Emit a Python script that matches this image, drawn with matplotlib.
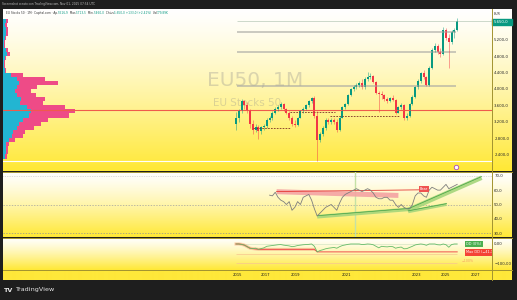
import numpy as np
import matplotlib
matplotlib.use("Agg")
import matplotlib.pyplot as plt
from matplotlib.colors import to_rgb
from matplotlib.patches import Rectangle
from matplotlib.ticker import FuncFormatter

# --- candele mensili EU Stocks 50 (una per barra, indice 0..79) ---
aperture = [3150, 3300, 3450, 3700, 3600, 3450, 3150, 3000, 3080, 2980,
            3060, 3100, 3250, 3300, 3420, 3500, 3560, 3620, 3500, 3420,
            3300, 3150, 3120, 3300, 3450, 3520, 3600, 3700, 3780, 3330,
            2750, 2900, 3050, 3250, 3200, 3250, 3200, 3000, 3300, 3550,
            3620, 3850, 4000, 4050, 4100, 4150, 4050, 4250, 4300, 4320,
            4180, 3900, 3880, 3850, 3750, 3700, 3780, 3720, 3420, 3550,
            3600, 3280, 3350, 3620, 3800, 4050, 4200, 4380, 4300, 4100,
            4500, 4950, 5050, 4900, 4850, 5450, 5250, 5150, 5380, 5450]
massimi = [3430, 3500, 3760, 3720, 3680, 3500, 3250, 3150, 3120, 3100,
           3150, 3300, 3350, 3450, 3550, 3600, 3670, 3650, 3540, 3450,
           3350, 3250, 3320, 3480, 3550, 3620, 3720, 3800, 3820, 3450,
           2950, 3100, 3280, 3300, 3300, 3280, 3260, 3350, 3580, 3650,
           3880, 4020, 4100, 4150, 4200, 4250, 4300, 4420, 4400, 4350,
           4200, 3950, 3950, 3880, 3800, 3800, 3850, 3760, 3580, 3650,
           3620, 3400, 3650, 3850, 4080, 4250, 4420, 4450, 4320, 4550,
           5000, 5120, 5100, 5000, 5500, 5480, 5350, 5450, 5480, 5730]
minimi = [3000, 3200, 3400, 3500, 3400, 3050, 2900, 2950, 2780, 2900,
          3000, 3050, 3200, 3250, 3380, 3450, 3520, 3450, 3380, 3250,
          3100, 3080, 3100, 3280, 3400, 3480, 3560, 3650, 3300, 2250,
          2700, 2850, 3000, 3150, 3150, 3150, 2950, 2980, 3280, 3500,
          3600, 3820, 3950, 4000, 4050, 4000, 4000, 4200, 4250, 4150,
          3880, 3430, 3750, 3700, 3650, 3680, 3700, 3380, 3400, 3500,
          3250, 3250, 3320, 3600, 3780, 4000, 4150, 4250, 4060, 4080,
          4480, 4900, 4850, 4780, 4820, 5200, 4520, 5100, 5250, 5420]
chiusure = [3300, 3450, 3700, 3600, 3450, 3150, 3000, 3080, 2980, 3060,
            3100, 3250, 3300, 3420, 3500, 3560, 3620, 3500, 3420, 3300,
            3150, 3120, 3300, 3450, 3520, 3600, 3700, 3780, 3330, 2750,
            2900, 3050, 3250, 3200, 3250, 3200, 3000, 3300, 3550, 3620,
            3850, 4000, 4050, 4100, 4150, 4050, 4250, 4300, 4320, 4180,
            3900, 3880, 3850, 3750, 3700, 3780, 3720, 3420, 3550, 3600,
            3280, 3350, 3620, 3800, 4050, 4200, 4380, 4300, 4100, 4500,
            4950, 5050, 4900, 4850, 5450, 5250, 5150, 5380, 5450, 5650]

# --- volume profile (livello di prezzo, volume in acquisto / vendita) ---
vp_livelli = [5650, 5550, 5450, 5350, 5250, 5150, 5050, 4950, 4850, 4750,
              4650, 4550, 4450, 4350, 4250, 4150, 4050, 3950, 3850, 3750,
              3650, 3550, 3450, 3350, 3250, 3150, 3050, 2950, 2850, 2750,
              2650, 2550, 2450, 2350]
vp_su = [3, 2, 3, 3, 2, 1, 1, 3, 4, 2, 1, 1, 2, 8, 14, 16, 14, 12, 14, 18,
         17, 24, 28, 26, 20, 16, 14, 10, 9, 6, 3, 3, 3, 2]
vp_giu = [2, 2, 2, 2, 1, 1, 1, 2, 3, 1, 1, 1, 1, 12, 28, 39, 20, 16, 19, 24,
          23, 38, 44, 40, 25, 22, 17, 12, 11, 6, 3, 2, 2, 2]
poc = 3480
livelli_grigi = [5390, 4890, 4080]

# --- RSI (dalla barra 12 in poi) ---
rsi_inizio = 12
rsi = [56.5, 56, 58.5, 55, 53, 52, 50, 52, 46, 48, 52, 50, 55, 56, 57, 53,
       47, 42, 44, 46, 48, 49, 50, 48, 46, 51, 55, 57, 58, 59, 60, 61, 60,
       59, 60, 61, 60, 58, 55, 54, 54, 55, 55, 53, 53, 50, 48, 50, 48, 47,
       47, 50, 56, 58, 58, 56, 55, 60, 62, 61, 60, 60, 62, 64, 61, 62, 63, 64]

# --- drawdown (%) ---
dd = [0, 0, -2, -6, -14, -22, -24, -22, -28, -24, -20, -12, -10, -8, -6, -4,
      -3, -6, -8, -10, -14, -12, -8, -6, -4, -3, -2, 0, -12, -41, -34, -30,
      -25, -22, -20, -18, -22, -14, -8, -5, -2, 0, 0, 0, 0, -3, -2, 0, -1,
      -4, -12, -20, -12, -14, -15, -13, -14, -22, -18, -16, -25, -24, -18,
      -12, -5, -2, 0, -2, -7, 0, 0, 0, -4, -5, 0, -4, -17, -3, 0, 0]
maxdd_x = [0, 1, 2, 3, 4, 5, 6, 8, 28, 29, 79]
maxdd = [0, 0, -2, -6, -14, -22, -24, -28, -28, -41, -41]

# --- etichette asse temporale (posizione in barre) ---
anni = ['2015', '2017', '2019', '2021', '2023', '2025', '2027']
anni_pos = [0.6, 10.6, 21.3, 39.5, 64.5, 74.8, 85.7]

W, H = 517, 300
PASSO, X_PRIMA = 2.8, 236
X0, X1 = (3 - X_PRIMA) / PASSO, (492 - X_PRIMA) / PASSO
VERDE, ROSSO, SEP = '#089981', '#F23645', '#A39330'

fig = plt.figure(figsize=(W / 100, H / 100), dpi=100, facecolor='#1E1E1E')


def px(x0, y0, x1, y1):
    return [x0 / W, 1 - y1 / H, (x1 - x0) / W, (y1 - y0) / H]


def sfondo(x0, y0, x1, y1, alto='#FFFFFF', basso='#FFE835'):
    a = fig.add_axes(px(x0, y0, x1, y1), zorder=0)
    t = np.linspace(0, 1, 200)[:, None, None] ** 1.25
    c0, c1 = np.array(to_rgb(alto)), np.array(to_rgb(basso))
    a.imshow(c0 + (c1 - c0) * t, aspect='auto', extent=(0, 1, 0, 1))
    a.set_axis_off()


def pannello(y0, y1, ylim):
    a = fig.add_axes(px(3, y0, 492, y1), zorder=2)
    a.set_facecolor('none')
    a.set_xlim(X0, X1)
    a.set_ylim(*ylim)
    for s in a.spines.values():
        s.set_visible(False)
    a.set_xticks([])
    a.yaxis.tick_right()
    a.tick_params(axis='y', length=0, pad=1.6, labelsize=2.8, labelcolor='#2B2B2B')
    return a


def it(v, dec):
    return f"{v:,.{dec}f}".replace(',', 'X').replace('.', ',').replace('X', '.').replace('-', '−')


sfondo(3, 9, 512, 171)
sfondo(3, 172, 512, 237)
sfondo(3, 238, 512, 270)
sfondo(3, 270, 512, 280, alto='#FFE83A', basso='#FFE83A')

# 1. pannello prezzi
ax = pannello(9, 171, (1995, 5951))
ax.set_yticks([2400, 2800, 3200, 3600, 4000, 4400, 4800, 5200])
ax.yaxis.set_major_formatter(FuncFormatter(lambda v, _: it(v, 1)))

axvp = fig.add_axes(px(3, 9, 492, 171), zorder=1)
axvp.set_xlim(0, 489)
axvp.set_ylim(1995, 5951)
axvp.barh(vp_livelli, vp_su, height=100, color='#22B5D2', lw=0)
axvp.barh(vp_livelli, vp_giu, left=vp_su, height=100, color='#EE4B87', lw=0)
axvp.set_axis_off()

ax.text(303 / W, 1 - 81 / H, 'EU50, 1M', transform=fig.transFigure, ha='right',
        va='center', fontsize=14.5, color='#8C8C8C', alpha=0.32, zorder=0)
ax.text(281 / W, 1 - 103.5 / H, 'EU Stocks 50', transform=fig.transFigure, ha='right',
        va='center', fontsize=7.5, color='#8C8C8C', alpha=0.32, zorder=0)

o, hi, lo, c = map(np.array, (aperture, massimi, minimi, chiusure))
idx = np.arange(len(c))
colori = np.where(c >= o, VERDE, ROSSO)
ax.hlines(livelli_grigi, 0.4, 78.6, color='#ABABA5', lw=1.1, alpha=0.8)
ax.hlines(c[-1], 0.4, X1, color='#B9C9B9', lw=0.5)
ax.axhline(poc, color='#EF5B4C', lw=0.8)
ax.axhline(2230, color='white', lw=0.8)
ax.hlines(3035, 6.1, 19.3, color='#7B2D26', lw=0.6, linestyles=(0, (2, 1.5)))
ax.hlines(3440, 19.3, 35.4, color='#7B2D26', lw=0.6, linestyles=(0, (2, 1.5)))
ax.hlines(3330, 33.6, 58.6, color='#7B2D26', lw=0.6, linestyles=(0, (2, 1.5)))
ax.vlines(idx, lo, hi, colors=colori, lw=0.6, alpha=0.55)
ax.bar(idx, np.maximum(np.abs(c - o), 12), bottom=np.minimum(o, c), width=0.75,
       color=colori, lw=0)
ax.plot(78.6, 2092, 'o', ms=3.2, mfc='white', mec='#AB47BC', mew=0.6, clip_on=False)

# prezzo corrente sull'asse
fig.add_artist(Rectangle((492 / W, 1 - 25 / H), 20 / W, 6 / H, color=VERDE,
                         transform=fig.transFigure))
fig.text(494 / W, 1 - 22 / H, it(c[-1], 1), fontsize=2.8, color='white', va='center')
fig.text(494 / W, 1 - 14 / H, 'EUR', fontsize=2.4, color='#333333', va='center')

# 2. pannello RSI
axr = pannello(172, 237, (27.4, 72.6))
axr.set_yticks([30, 40, 50, 60, 70])
axr.yaxis.set_major_formatter(FuncFormatter(lambda v, _: it(v, 1)))
axr.axhline(70, color='#BDBDBD', lw=0.5, ls=(0, (1, 1.5)))
axr.axhline(50, color='#A0A0A0', lw=0.5, ls=(0, (2, 2)))
axr.axhline(30, color='#909090', lw=0.5, ls=(0, (2, 2)))
axr.axvline(42.5, color='#C5E1A5', lw=1)
axr.plot([14.5, 58.0], [58.9, 56.3], color='#F4A3A3', lw=3.6, alpha=0.9, solid_capstyle='butt')
axr.plot([14.5, 65.5], [59.0, 60.2], color='#E53935', lw=0.6)
axr.plot([29.0, 62.1], [41.5, 46.7], color='#A5D67A', lw=2.6, alpha=0.9, solid_capstyle='butt')
axr.plot([61.5, 87.7], [46.2, 68.6], color='#A5D67A', lw=3.2, alpha=0.9, solid_capstyle='butt')
axr.plot([61.5, 75.2], [45.0, 50.1], color='#A5D67A', lw=2.2, alpha=0.9, solid_capstyle='butt')
axr.plot([29.0, 62.1], [42.2, 47.3], color='#43A047', lw=0.5)
axr.plot([61.5, 87.7], [47.0, 69.4], color='#43A047', lw=0.5)
axr.plot([61.5, 75.2], [45.6, 50.6], color='#43A047', lw=0.5)
axr.plot(np.arange(rsi_inizio, rsi_inizio + len(rsi)), rsi, color='#7E7E7E', lw=0.6)
axr.text(67.1, 60.6, 'Bear', ha='center', va='center', fontsize=2.5, color='white',
         bbox=dict(boxstyle='square,pad=0.35', fc='#EF5350', ec='none'))

# 3. pannello drawdown
axd = pannello(238, 270, (-135, 31))
axd.set_yticks([0, -100])
axd.yaxis.set_major_formatter(FuncFormatter(lambda v, _: it(v, 2)))
axd.hlines(0, 0, 79, color='#D4E6C4', lw=0.5)
axd.hlines([-50, -100], 0, 79, color='#F7C58E', lw=0.5)
axd.plot(maxdd_x[:9], maxdd[:9], color='#F8B98A', lw=2.2, alpha=0.7)
axd.plot(maxdd_x, maxdd, color='#EF4E4E', lw=0.7)
axd.plot(idx, dd, color='#66BB6A', lw=0.6)
axd.text(80.5, -90, '−100%', fontsize=2.3, color='#F5A060', va='center')
axd.text(82.3, 0, 'DD (0%)', fontsize=2.5, color='white', va='center', clip_on=True,
         bbox=dict(boxstyle='square,pad=0.4', fc='#4CAF50', ec='none'))
axd.text(82.3, -43, 'Max DD (−41,18%)', fontsize=2.5, color='white', va='center',
         clip_on=True, bbox=dict(boxstyle='square,pad=0.4', fc='#F44336', ec='none'))

# 4. asse temporale
axt = fig.add_axes(px(3, 270, 492, 280), zorder=2)
axt.set_xlim(X0, X1)
axt.set_ylim(0, 1)
axt.set_axis_off()
for pos, a in zip(anni_pos, anni):
    axt.text(pos, 0.5, a, ha='center', va='center', fontsize=2.7, color='#1A1A1A')

# separatori
for y in (171.5, 237.5, 270):
    fig.add_artist(plt.Line2D([3 / W, 512 / W], [1 - y / H] * 2, color=SEP, lw=0.7))
fig.add_artist(plt.Line2D([492 / W] * 2, [1 - 9 / H, 1 - 280 / H], color=SEP, lw=0.7))

# testi di cornice
fig.text(2 / W, 1 - 4.5 / H, 'Screenshot creato con TradingView.com, Nov 01, 2025 07:54 UTC',
         fontsize=2.1, color='#BDBDBD', va='center')
intestazione = [('EU Stocks 50 · 1M · Capital.com · Ap.', '#333333'), ('5.516,9', VERDE),
                (' Mas.', '#333333'), ('5.713,5', VERDE), (' Min.', '#333333'),
                ('5.460,0', VERDE), (' Chius.', '#333333'), (it(c[-1], 1) + ' +133,0 (+2,41%)', VERDE),
                (' Vol', '#333333'), ('179,89K', VERDE)]
r = fig.canvas.get_renderer()
x = 6
for testo, colore in intestazione:
    t = fig.text(x / W, 1 - 13 / H, testo, fontsize=2.1, color=colore, va='center')
    x += t.get_window_extent(r).width
fig.text(4 / W, 1 - 290 / H, 'TV', fontsize=4.6, fontweight='bold', color='#E6E6E6', va='center')
fig.text(15 / W, 1 - 290 / H, 'TradingView', fontsize=4.6, color='#E6E6E6', va='center')

fig.savefig('out.png', dpi=100, facecolor=fig.get_facecolor())
